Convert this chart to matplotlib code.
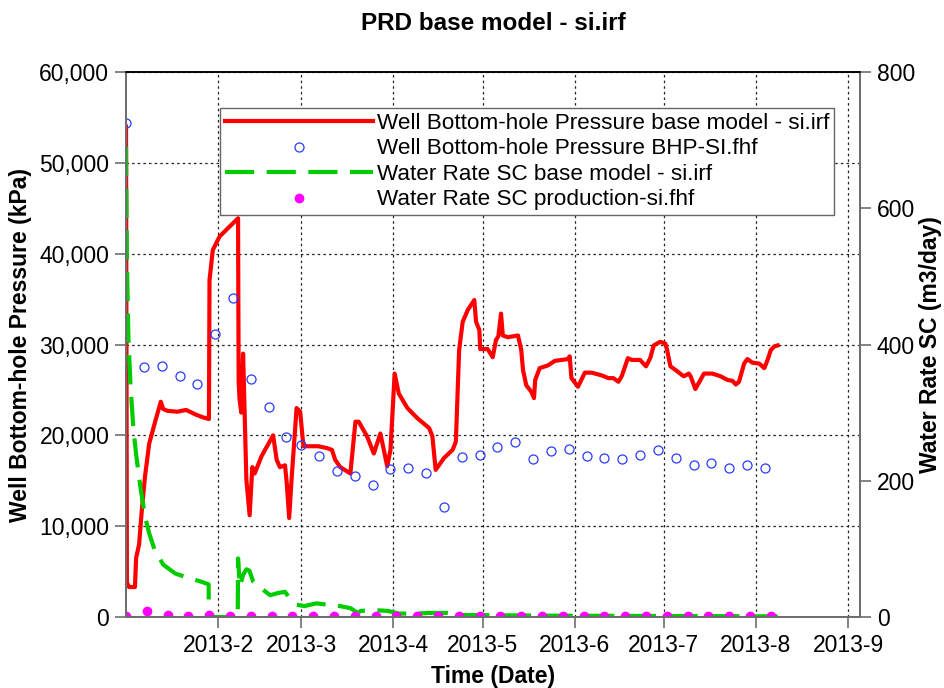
import numpy as np
import pandas as pd
import matplotlib
matplotlib.use("Agg")
import matplotlib.pyplot as plt
from matplotlib.ticker import FuncFormatter, MultipleLocator

plt.rcParams['font.family'] = ['Liberation Sans', 'DejaVu Sans']

start = pd.Timestamp('2013-01-01')

# simulated bottom-hole pressure (kPa), days since 2013-01-01
bhp_days = [0.0, 0.3, 1.0, 3.0, 3.4, 4.4, 5.4, 6.4, 7.8, 9.8, 11.7, 12.5, 13.9, 17.3, 20.2,
            23.4, 25.7, 27.9, 28.0, 28.1, 29.2, 31.5, 34.9, 37.7, 37.9, 38.2, 38.8, 39.4,
            39.9, 40.5, 41.6, 42.5, 43.3, 45.6, 49.5, 50.7, 51.8, 53.5, 54.1, 54.9, 55.7,
            57.4, 58.6, 59.7, 64.7, 67.6, 69.3, 70.4, 72.1, 75.5, 77.2, 78.3, 81.1, 83.4,
            85.6, 87.9, 89.0, 90.4, 91.8, 94.7, 98.0, 102.0, 103.1, 104.2, 107.0, 109.9,
            111.0, 112.1, 113.3, 115.0, 117.2, 117.8, 118.9, 119.2, 121.7, 123.4, 124.5,
            125.3, 126.2, 126.8, 128.5, 131.9, 133.0, 133.6, 134.7, 136.4, 137.3, 137.7,
            139.2, 142.0, 144.3, 148.8, 149.3, 149.9, 152.1, 154.4, 156.7, 160.1, 162.3,
            164.0, 165.7, 166.8, 168.9, 170.2, 173.0, 175.0, 176.4, 177.6, 179.8, 181.5,
            182.1, 183.2, 184.9, 187.7, 189.4, 190.0, 191.6, 193.3, 194.5, 197.3, 200.1,
            202.4, 204.1, 205.2, 206.3, 208.0, 209.1, 210.8, 213.1, 214.8, 215.9, 217.0,
            218.2, 219.3]
bhp_model = [54000, 3800, 3300, 3300, 6500, 8000, 12100, 15500, 19100, 21500, 23700, 22900,
             22700, 22600, 22800, 22300, 22000, 21800, 30000, 37100, 40400, 41900, 43000,
             43900, 26000, 24000, 22500, 29000, 22500, 15100, 11200, 16500, 15800, 17700,
             20000, 17300, 16500, 16700, 14700, 10900, 15100, 23000, 22600, 18800, 18800,
             18600, 18400, 17300, 16500, 15800, 21500, 21500, 19900, 18000, 20200, 16600,
             18400, 26800, 24600, 23000, 21900, 20800, 19900, 16200, 17500, 18400, 19300,
             29400, 32500, 33800, 34900, 32500, 31600, 29500, 29500, 28600, 30500, 30900,
             33400, 31000, 30800, 31000, 29400, 27200, 25500, 24800, 24100, 26100, 27400,
             27700, 28200, 28400, 28700, 26300, 25350, 26900, 26900, 26600, 26300, 26300,
             25900, 26500, 28500, 28300, 28300, 27600, 28500, 29900, 30300, 30100, 29400,
             27600, 27200, 26500, 26800, 26500, 25100, 26100, 26800, 26800, 26500, 26100,
             26000, 25600, 25900, 27900, 28400, 28000, 27900, 27400, 28300, 29400, 29800,
             29900]

# measured bottom-hole pressure (BHP-SI.fhf)
obs_days = [0, 6, 12, 18, 24, 30, 36, 42, 48, 54, 59, 65, 71, 77, 83, 89, 95, 101, 107,
            113, 119, 125, 131, 137, 143, 149, 155, 161, 167, 173, 179, 185, 191, 197, 203,
            209, 215]
bhp_obs = [54400, 27560, 27630, 26530, 25650, 31120, 35100, 26200, 23090, 19820, 18940,
           17720, 16070, 15480, 14500, 16260, 16370, 15890, 12080, 17580, 17870, 18750,
           19230, 17360, 18240, 18460, 17720, 17470, 17390, 17830, 18380, 17470, 16770,
           16990, 16440, 16730, 16370]

# simulated water rate (m3/day)
wr_days = [0.0, 0.3, 0.8, 1.5, 2.5, 3.5, 5.0, 6.5, 7.8, 9.5, 12.5, 16.5, 20.5, 24.5, 27.8,
           27.9, 37.6, 37.7, 38.3, 39.4, 40.5, 41.5, 42.8, 45.5, 48.5, 51.0, 53.5, 55.0,
           57.5, 60.0, 64.0, 68.0, 72.0, 75.5, 78.0, 79.0, 84.0, 88.0, 92.0, 98.0, 102.0,
           108.0, 112.0, 140.0, 180.0, 219.3]
wr_model = [690, 520, 410, 340, 275, 235, 186, 145, 123, 100, 77, 64, 58, 53, 48,
            0, 0, 86, 45, 62, 70, 68, 52, 42, 32, 35, 37, 28,
            18, 16, 20, 18, 16, 13, 6, 9, 10, 9, 5, 5, 6,
            6, 3, 2, 1.5, 1]

# measured water rate (production-si.fhf)
wr_obs_days = [0, 7, 14, 21, 28, 35, 42, 49, 56, 63, 70, 77, 84, 91, 98, 105, 112, 119,
               126, 133, 140, 147, 154, 161, 168, 175, 182, 189, 196, 203, 210, 217]
wr_obs = [2, 9, 3, 2, 3, 2, 2, 2, 2, 2, 2, 2, 2, 2, 2, 2, 2, 2,
          2, 2, 2, 2, 2, 2, 2, 2, 2, 2, 2, 2, 2, 2]

month_ticks = ['2013-02-01', '2013-03-01', '2013-04-01', '2013-05-01', '2013-06-01',
               '2013-07-01', '2013-08-01', '2013-09-01']


def to_dates(days):
    return start + pd.to_timedelta(np.asarray(days, dtype=float), unit='D')


fig = plt.figure(figsize=(9.44, 6.88), dpi=100)
ax = fig.add_axes([0.1335, 0.1032, 0.7775, 0.7921])
ax2 = ax.twinx()

l1, = ax.plot(to_dates(bhp_days), bhp_model, color='#ff0000', lw=3,
              label='Well Bottom-hole Pressure base model - si.irf')
l2, = ax.plot(to_dates(obs_days), bhp_obs, 'o', ms=6.5, mfc='none', mec='#2a3cff', mew=0.9,
              label='Well Bottom-hole Pressure BHP-SI.fhf')
l3, = ax2.plot(to_dates(wr_days), wr_model, color='#00cc00', lw=3, dashes=(7, 3),
               label='Water Rate SC base model - si.irf')
l4, = ax2.plot(to_dates(wr_obs_days), wr_obs, 'o', ms=6, color='#ff00ff', mec='#ff00ff',
               label='Water Rate SC production-si.fhf')

ax.set_xlim(pd.Timestamp('2013-01-01'), pd.Timestamp('2013-09-05'))
ax.set_ylim(0, 60000)
ax2.set_ylim(0, 800)
ax.yaxis.set_major_locator(MultipleLocator(10000))
ax2.yaxis.set_major_locator(MultipleLocator(200))
ax.yaxis.set_major_formatter(FuncFormatter(lambda v, p: f'{int(v):,}'))

ticks = pd.to_datetime(month_ticks)
ax.set_xticks(ticks)
ax.set_xticklabels([f'{t.year}-{t.month}' for t in ticks])

ax.grid(True, color='#222222', lw=0.9, linestyle=(0, (2, 2.5)))

for a in (ax, ax2):
    for s in ('left', 'right', 'bottom'):
        a.spines[s].set_color('#6e6e6e')
        a.spines[s].set_linewidth(1.4)
    a.spines['top'].set_color('black')
    a.spines['top'].set_linewidth(1.2)
    a.tick_params(direction='out', length=8, width=1.2, color='#6e6e6e',
                  labelsize=16.5, pad=4)

ax.set_title('PRD base model - si.irf', fontsize=17.5, fontweight='bold', pad=30)
ax.set_xlabel('Time (Date)', fontsize=16.5, fontweight='bold', labelpad=6)
ax.set_ylabel('Well Bottom-hole Pressure (kPa)', fontsize=16.5, fontweight='bold', labelpad=5)
ax2.set_ylabel('Water Rate SC (m3/day)', fontsize=16.5, fontweight='bold', labelpad=3)

leg = ax2.legend(handles=[l1, l2, l3, l4], loc='upper left',
                 bbox_to_anchor=(220 / 944, 1 - 108 / 688), bbox_transform=fig.transFigure,
                 borderaxespad=0, fontsize=16.2, handlelength=6.6, handletextpad=0.15,
                 labelspacing=0.2, borderpad=0.22, fancybox=False, framealpha=1,
                 edgecolor='#666666', numpoints=1)
leg.get_frame().set_linewidth(1.0)

fig.savefig('out.png', dpi=100)
